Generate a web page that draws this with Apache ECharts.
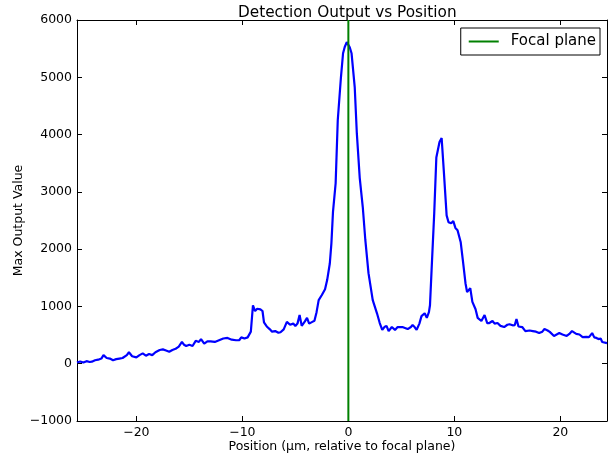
<!DOCTYPE html>
<html>
<head>
<meta charset="utf-8">
<script src="https://cdn.jsdelivr.net/npm/echarts@6/dist/echarts.min.js"></script>
<style>
html,body{margin:0;padding:0;background:#fff;}
#chart{width:610px;height:458px;}
</style>
</head>
<body>
<div id="chart"></div>
<script>
// Position (µm, relative to focal plane)
var positions = [
-25.6,-25.3,-25.0,-24.7,-24.4,-24.2,-23.9,-23.6,-23.3,-23.1,-22.8,-22.5,-22.2,-21.9,-21.6,-21.3,-20.9,-20.7,-20.4,-20.0,
-19.7,-19.4,-19.1,-18.8,-18.5,-18.2,-17.8,-17.5,-17.2,-16.9,-16.6,-16.3,-16.0,-15.7,-15.5,-15.3,-15.0,-14.7,-14.4,-14.1,
-13.9,-13.6,-13.3,-13.0,-12.6,-12.2,-11.8,-11.4,-11.0,-10.6,-10.3,-10.1,-9.8,-9.5,-9.2,-9.0,-8.8,-8.6,-8.3,-8.1,
-7.96,-7.7,-7.4,-7.2,-6.9,-6.6,-6.4,-6.1,-5.8,-5.5,-5.2,-5.0,-4.8,-4.6,-4.4,-4.1,-3.9,-3.7,-3.4,-3.2,
-3.0,-2.8,-2.5,-2.2,-2.0,-1.75,-1.6,-1.45,-1.2,-1.0,-0.7,-0.5,-0.35,-0.15,-0.05,0.13,0.3,0.6,0.8,1.07,
1.36,1.6,1.9,2.3,2.7,2.96,3.2,3.4,3.6,3.8,4.1,4.4,4.65,4.8,5.1,5.4,5.6,5.9,6.06,6.25,
6.44,6.7,6.9,7.2,7.4,7.6,7.7,7.85,8.1,8.3,8.6,8.8,9.0,9.27,9.45,9.7,9.9,10.1,10.3,10.6,
10.8,11.05,11.2,11.5,11.7,12.0,12.2,12.55,12.85,13.1,13.3,13.6,13.8,14.07,14.35,14.7,15.0,15.2,15.5,15.7,
15.86,16.05,16.14,16.4,16.7,17.1,17.4,17.7,18.0,18.3,18.5,18.8,19.0,19.4,19.9,20.2,20.6,20.85,21.1,21.5,
21.8,22.1,22.45,22.7,23.0,23.2,23.4,23.6,23.8,23.95,24.4
];
// Max Output Value
var outputs = [
20,40,20,45,30,35,60,70,90,150,100,90,60,80,90,100,150,200,130,110,
150,180,140,170,150,200,240,250,230,210,240,260,300,380,330,310,330,310,400,380,
430,350,390,390,380,410,440,450,420,410,410,460,440,460,560,1020,920,960,950,920,
720,650,600,560,570,540,550,600,730,680,700,660,700,850,660,740,800,700,730,750,
900,1110,1200,1300,1460,1750,2100,2650,3150,4250,5000,5420,5525,5615,5640,5525,5420,4830,4020,3250,
2735,2160,1580,1110,880,710,590,640,660,570,640,590,640,620,640,620,605,640,675,640,
590,700,830,880,800,900,1020,1630,2625,3600,3870,3940,3380,2590,2470,2450,2490,2370,2330,2120,
1810,1405,1250,1320,1080,950,800,745,850,710,710,745,700,710,660,640,680,690,670,675,
780,650,660,640,570,580,570,560,535,560,605,580,555,485,535,510,485,520,570,520,
510,465,470,465,535,460,450,430,440,380,360
];
var focalPlane = 0;
var xTicks = [-20,-10,0,10,20];
var yTicks = [-1000,0,1000,2000,3000,4000,5000,6000];

var lineData = positions.map(function(p,i){return [p, outputs[i]];});
var fmt = function(v){ return String(v).replace('-', '\u2212'); };
var font = 'DejaVu Sans';

var chart = echarts.init(document.getElementById('chart'), null, {renderer:'canvas'});
var axisCommon = {
  axisLine:{show:true, onZero:false, lineStyle:{color:'#000', width:1}},
  axisTick:{show:true, inside:true, length:5, lineStyle:{color:'#000', width:1}},
  splitLine:{show:false}
};
chart.setOption({
  animation:false,
  backgroundColor:'#fff',
  title:{
    text:'Detection Output vs Position',
    left:233, top:1,
    textStyle:{fontFamily:font, fontSize:15.3, fontWeight:'normal', color:'#000'}
  },
  legend:{
    data:[{name:'Focal plane', icon:'rect'}],
    right:10, top:28,
    itemWidth:30, itemHeight:2,
    padding:[6,4,6,8],
    borderColor:'#000', borderWidth:1, borderRadius:0,
    backgroundColor:'#fff',
    textStyle:{fontFamily:font, fontSize:15, color:'#000', padding:[0,0,0,7]}
  },
  grid:{left:77, right:3, top:20, bottom:37, containLabel:false, outerBoundsMode:'none'},
  xAxis:[
    Object.assign({
      type:'value', min:-25.6, max:24.4, splitNumber:5, minInterval:10, maxInterval:10,
      position:'bottom',
      name:'Position (\u00b5m, relative to focal plane)', nameLocation:'middle', nameGap:19,
      nameMoveOverlap:false,
      nameTextStyle:{fontFamily:font, fontSize:12.5, color:'#000'},
      axisLabel:{fontFamily:font, fontSize:12.5, color:'#000', margin:5, showMinLabel:false, showMaxLabel:false,
        formatter:function(v){ return xTicks.indexOf(v) >= 0 ? fmt(v) : ''; }}
    }, axisCommon),
    Object.assign({
      type:'value', min:-25.6, max:24.4, splitNumber:5, minInterval:10, maxInterval:10,
      position:'top', axisLabel:{show:false}
    }, axisCommon)
  ],
  yAxis:[
    Object.assign({
      type:'value', min:yTicks[0], max:yTicks[yTicks.length-1], interval:1000,
      position:'left',
      name:'Max Output Value', nameLocation:'middle', nameGap:52,
      nameMoveOverlap:false,
      nameTextStyle:{fontFamily:font, fontSize:12.5, color:'#000'},
      axisLabel:{fontFamily:font, fontSize:12.5, color:'#000', margin:5, formatter:fmt}
    }, axisCommon),
    Object.assign({
      type:'value', min:yTicks[0], max:yTicks[yTicks.length-1], interval:1000,
      position:'right', axisLabel:{show:false}
    }, axisCommon)
  ],
  series:[
    {
      name:'Max Output', type:'line', data:lineData, showSymbol:false, symbol:'none',
      lineStyle:{color:'#0000ff', width:2.2}, itemStyle:{color:'#0000ff'},
      xAxisIndex:0, yAxisIndex:0, z:2
    },
    {
      name:'Focal plane', type:'line', data:[[focalPlane, yTicks[0]],[focalPlane, yTicks[yTicks.length-1]]],
      showSymbol:false, symbol:'none',
      lineStyle:{color:'#008000', width:2}, itemStyle:{color:'#008000'},
      xAxisIndex:0, yAxisIndex:0, z:3
    }
  ]
});
</script>
</body>
</html>
